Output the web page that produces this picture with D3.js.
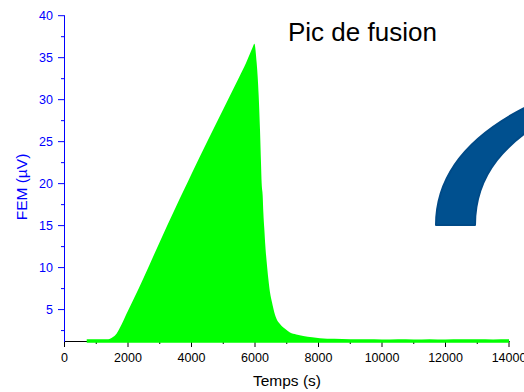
<!DOCTYPE html>
<html>
<head>
<meta charset="utf-8">
<script src="https://cdn.jsdelivr.net/npm/d3@7/dist/d3.min.js"></script>
<style>
  html, body { margin: 0; padding: 0; background: #ffffff; }
  svg { display: block; }
  text { font-family: "Liberation Sans", Arial, Helvetica, sans-serif; }
</style>
</head>
<body>
<svg id="chart" width="524" height="392"></svg>
<script>
// Melting peak: thermocouple EMF (µV) versus time (s)
const timeSec = [
  700, 1000, 1300, 1380, 1450, 1537, 1644, 1720, 1801, 1900, 2000, 2167,
  2500, 3000, 3500, 3764, 4000, 4500, 5000, 5500, 5717, 5850, 5930, 5980,
  6053, 6116, 6157, 6189, 6210, 6242, 6263, 6294, 6326, 6368, 6420, 6472,
  6535, 6609, 6683, 6760, 6840, 6966, 7102, 7300, 7520, 7800, 8047, 8500,
  9000, 9500, 10000, 10500, 11000, 11500, 12000, 12500, 13000, 13500, 14000
];
const femMicroVolt = [
  1.40, 1.40, 1.40, 1.40, 1.50, 1.70, 2.10, 2.60, 3.20, 4.00, 4.80, 6.10,
  8.80, 13.0, 17.1, 19.2, 21.1, 25.0, 28.8, 32.6, 34.3, 35.5, 36.2, 36.6,
  34.3, 30.4, 26.4, 22.4, 20.0, 18.5, 16.5, 14.5, 12.5, 10.6, 8.6, 7.0,
  5.8, 4.6, 3.8, 3.35, 3.0, 2.6, 2.2, 1.98, 1.8, 1.64, 1.53, 1.46,
  1.42, 1.40, 1.38, 1.41, 1.39, 1.42, 1.38, 1.40, 1.41, 1.39, 1.40
];
const xMajorTicks = [0, 2000, 4000, 6000, 8000, 10000, 12000, 14000];
const xMinorTicks = [1000, 3000, 5000, 7000, 9000, 11000, 13000];
const yMajorTicks = [5, 10, 15, 20, 25, 30, 35, 40];
const yMinorTicks = [2.5, 7.5, 12.5, 17.5, 22.5, 27.5, 32.5, 37.5];
const chartTitle = "Pic de fusion";
const xTitle = "Temps (s)";
const yTitle = "FEM (µV)";

const svg = d3.select("#chart");
const fontSize = 12.5;
const axisBlue = "#0000ff";

const x = d3.scaleLinear().domain([0, 14000]).range([64, 508.5]);
const y = d3.scaleLinear().domain([1.2, 40]).range([341, 15.2]);

const points = timeSec.map((t, i) => ({ t, v: femMicroVolt[i] }));

// X axis (black), drawn beneath the filled area
const gx = svg.append("g").attr("transform", "translate(0,341)");
gx.call(d3.axisBottom(x).tickValues(xMajorTicks).tickSize(6).tickPadding(6.5)
  .tickFormat(d3.format("d")));
gx.append("g").call(d3.axisBottom(x).tickValues(xMinorTicks).tickSize(3).tickFormat(""));
gx.selectAll(".domain").remove();
gx.append("line").attr("x1", x(0)).attr("x2", x(14000) + 1)
  .attr("y1", 0.5).attr("y2", 0.5).attr("stroke", "#000").attr("stroke-width", 1);
gx.selectAll("line").attr("stroke", "#000");
gx.selectAll("text").attr("fill", "#000").style("font-size", fontSize + "px")
  .style("font-family", "'Liberation Sans', Arial, sans-serif");

// Y axis (blue)
const gy = svg.append("g").attr("transform", "translate(64,0)");
gy.call(d3.axisLeft(y).tickValues(yMajorTicks).tickSize(6).tickPadding(5)
  .tickFormat(d3.format("d")));
gy.append("g").call(d3.axisLeft(y).tickValues(yMinorTicks).tickSize(3).tickFormat(""));
gy.selectAll(".domain").remove();
gy.append("line").attr("x1", 0.5).attr("x2", 0.5)
  .attr("y1", y(40)).attr("y2", y(1.2) + 1).attr("stroke", axisBlue);
gy.selectAll("line").attr("stroke", axisBlue);
gy.selectAll("text").attr("fill", axisBlue).style("font-size", fontSize + "px")
  .style("font-family", "'Liberation Sans', Arial, sans-serif");

// Filled peak area
const area = d3.area()
  .x(d => x(d.t) + 0.5)
  .y0(y(1.2) + 1.8)
  .y1(d => y(d.v))
  .curve(d3.curveMonotoneX);
svg.append("path").datum(points)
  .attr("d", area)
  .attr("fill", "#00ff00");

// Titles
svg.append("text").attr("x", 288).attr("y", 41)
  .style("font-size", "26px").attr("fill", "#000").text(chartTitle);

svg.append("text").attr("x", 287).attr("y", 386).attr("text-anchor", "middle")
  .style("font-size", "15.5px").attr("fill", "#000").text(xTitle);

svg.append("text").attr("transform", "translate(27,187) rotate(-90)")
  .attr("text-anchor", "middle")
  .style("font-size", "15.5px").attr("fill", axisBlue).text(yTitle);

// Blue arc emblem at the right edge
svg.append("path")
  .attr("d", "M436,225 C436,170 475,125 560,92 L560,112 C505,140 475,175 475,225 Z")
  .attr("fill", "#00508f")
  .attr("stroke", "#004a87")
  .attr("stroke-width", 2)
  .attr("stroke-linejoin", "round");
</script>
</body>
</html>
